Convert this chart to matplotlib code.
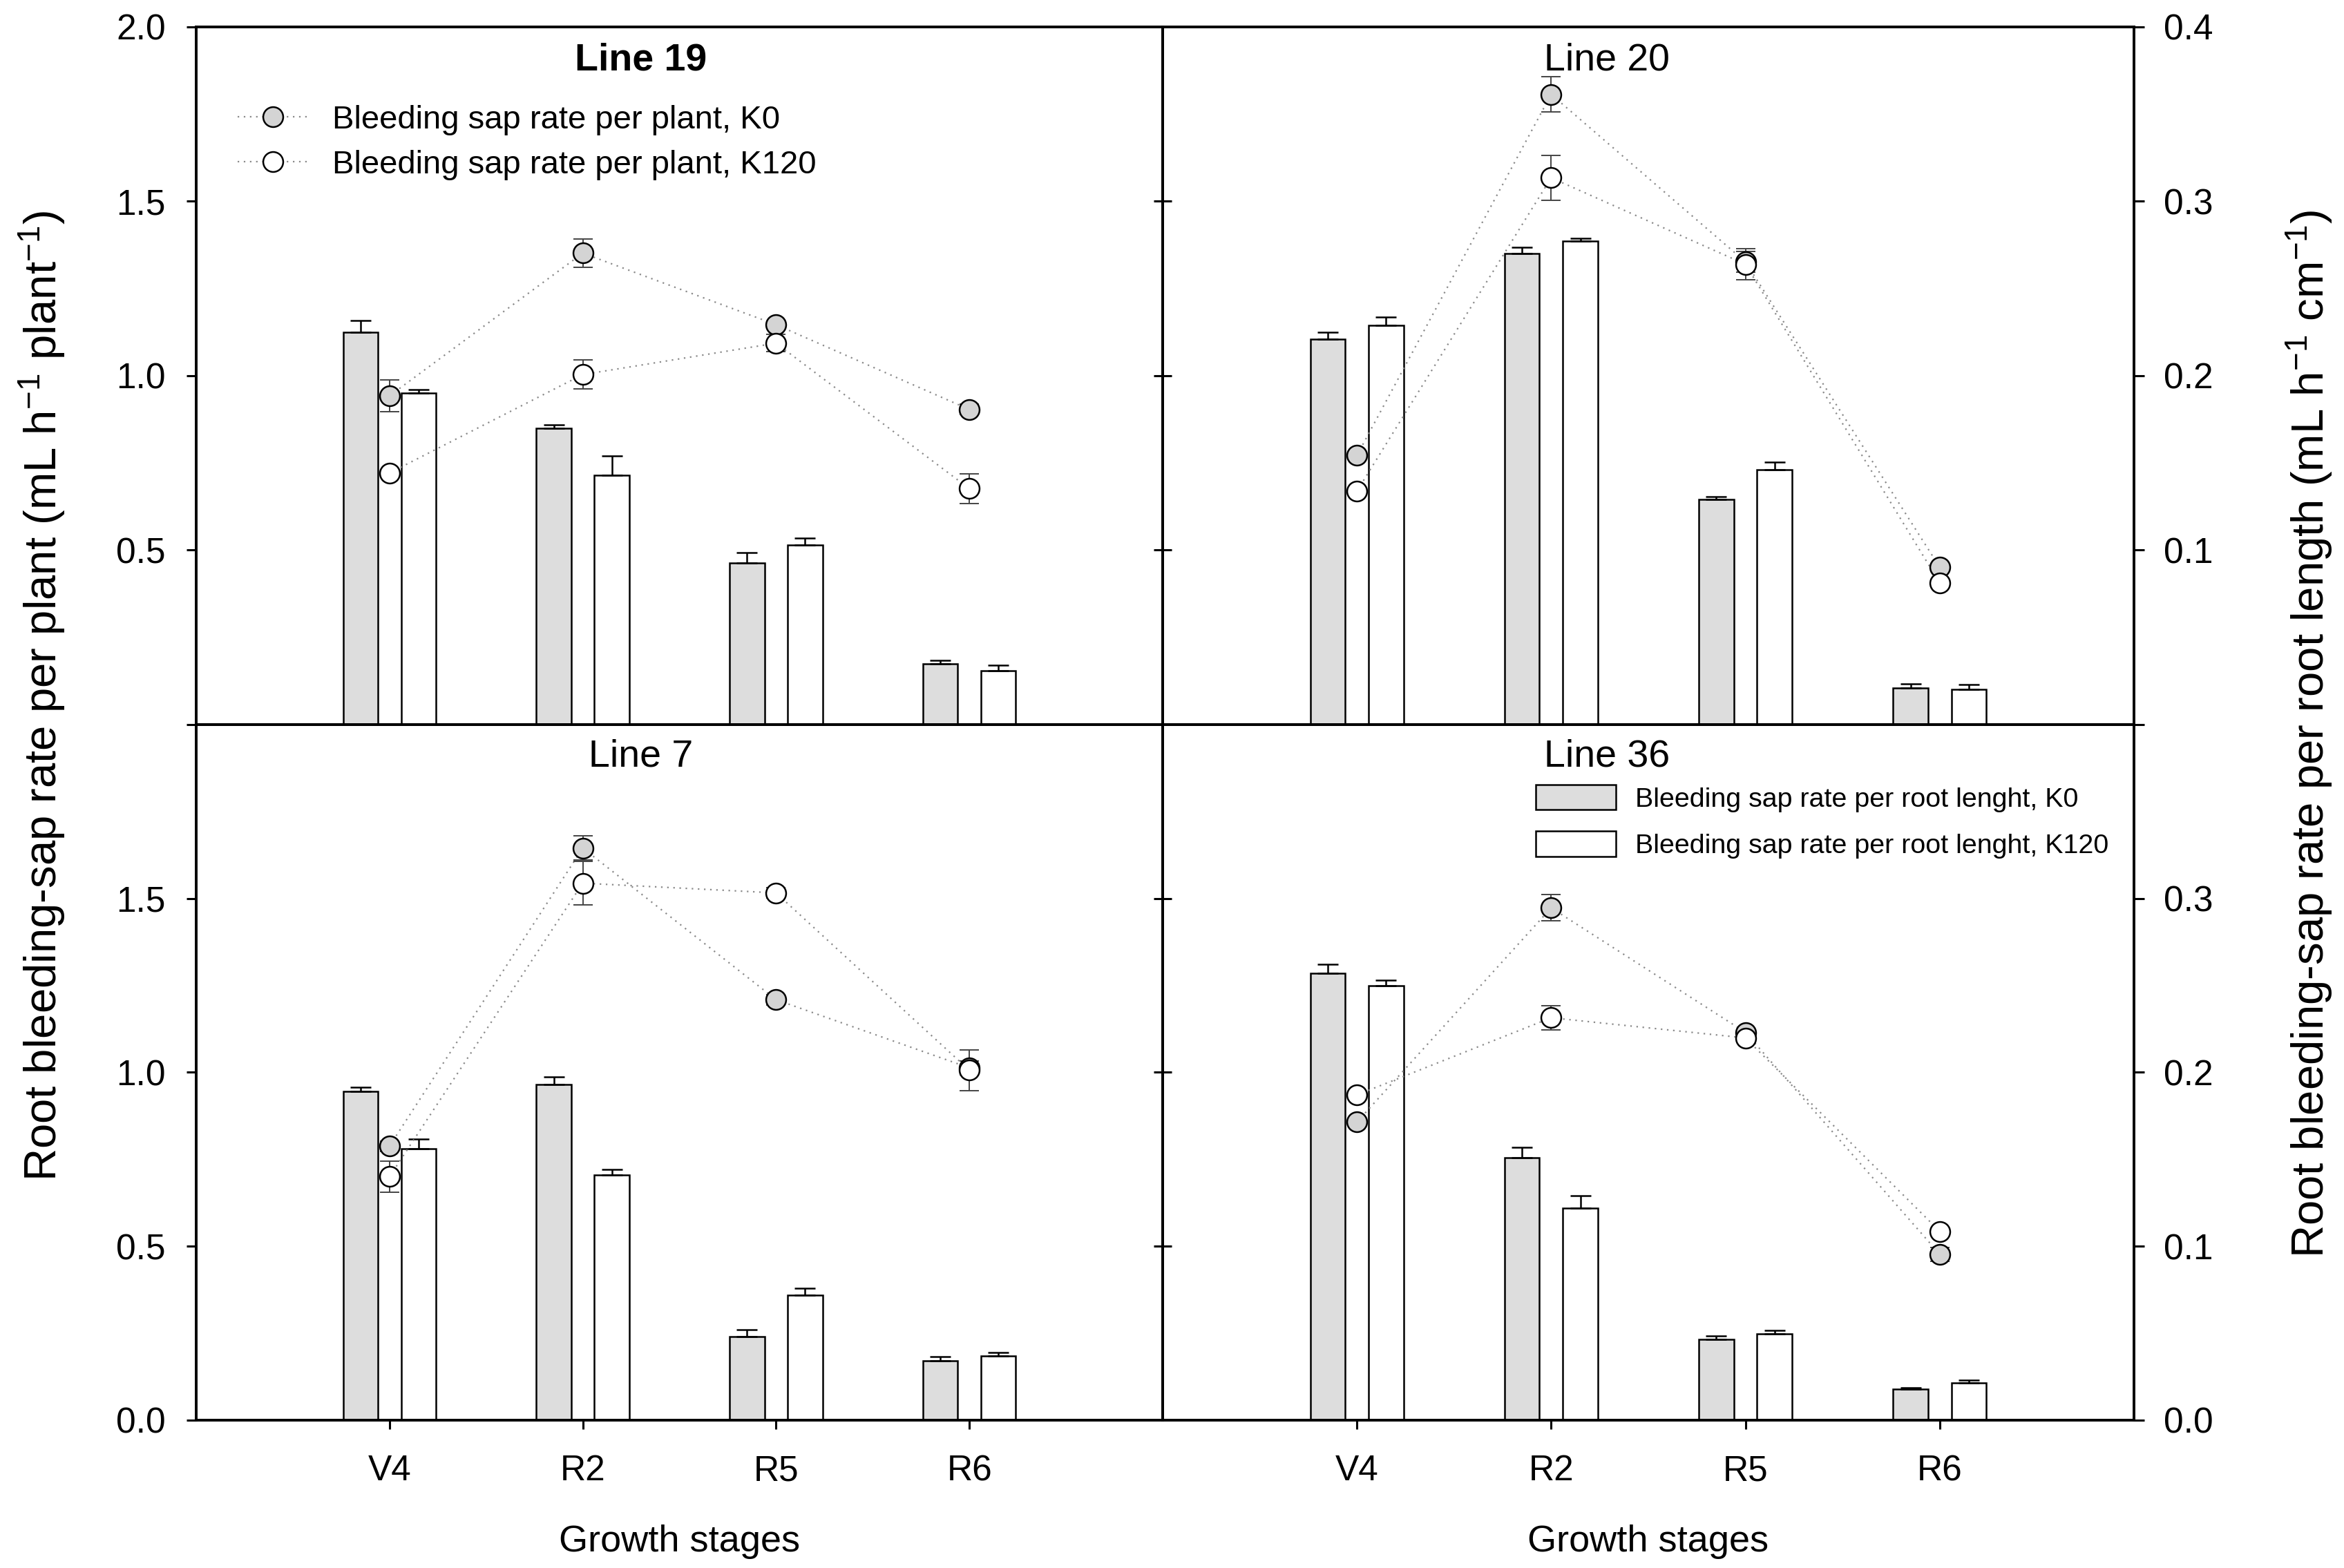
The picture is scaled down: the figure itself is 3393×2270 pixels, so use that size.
'''
bleeding sap rate of four soybean lines at four growth stages
bars: per root length (right axis), circles: per plant (left axis)
'''
import numpy as np
import matplotlib
matplotlib.use('Agg')
import matplotlib.pyplot as plt
from matplotlib.lines import Line2D
from matplotlib.patches import Patch

plt.rcParams['font.family'] = ['Liberation Sans', 'DejaVu Sans']
plt.rcParams['mathtext.fontset'] = 'custom'
plt.rcParams['mathtext.rm'] = 'Liberation Sans'
plt.rcParams['mathtext.it'] = 'Liberation Sans:italic'

stages = ['V4', 'R2', 'R5', 'R6']

# Line 19
l19_root_k0 = [0.225, 0.170, 0.0925, 0.035]
l19_root_k0_err = [0.0064, 0.002, 0.006, 0.002]
l19_root_k120 = [0.190, 0.143, 0.103, 0.031]
l19_root_k120_err = [0.002, 0.011, 0.004, 0.003]
l19_plant_k0 = [0.942, 1.351, 1.146, 0.903]
l19_plant_k0_err = [0.045, 0.04, 0.01, 0.015]
l19_plant_k120 = [0.721, 1.003, 1.093, 0.676]
l19_plant_k120_err = [0.01, 0.042, 0.025, 0.042]

# Line 20
l20_root_k0 = [0.221, 0.270, 0.129, 0.021]
l20_root_k0_err = [0.004, 0.0036, 0.0017, 0.0025]
l20_root_k120 = [0.229, 0.277, 0.146, 0.020]
l20_root_k120_err = [0.0045, 0.0017, 0.0044, 0.003]
l20_plant_k0 = [0.771, 1.806, 1.326, 0.451]
l20_plant_k0_err = [0.01, 0.05, 0.03, 0.01]
l20_plant_k120 = [0.669, 1.567, 1.319, 0.406]
l20_plant_k120_err = [0.01, 0.064, 0.045, 0.01]

# Line 7
l7_root_k0 = [0.189, 0.193, 0.048, 0.034]
l7_root_k0_err = [0.0025, 0.0044, 0.004, 0.0025]
l7_root_k120 = [0.156, 0.141, 0.072, 0.037]
l7_root_k120_err = [0.0056, 0.003, 0.004, 0.002]
l7_plant_k0 = [0.788, 1.645, 1.209, 1.013]
l7_plant_k0_err = [0.015, 0.035, 0.015, 0.02]
l7_plant_k120 = [0.700, 1.544, 1.516, 1.006]
l7_plant_k120_err = [0.045, 0.063, 0.015, 0.058]

# Line 36
l36_root_k0 = [0.257, 0.151, 0.0464, 0.0177]
l36_root_k0_err = [0.005, 0.006, 0.002, 0.001]
l36_root_k120 = [0.250, 0.122, 0.0495, 0.0215]
l36_root_k120_err = [0.003, 0.007, 0.002, 0.0015]
l36_plant_k0 = [0.857, 1.473, 1.115, 0.477]
l36_plant_k0_err = [0.01, 0.038, 0.01, 0.02]
l36_plant_k120 = [0.935, 1.157, 1.099, 0.543]
l36_plant_k120_err = [0.01, 0.034, 0.01, 0.01]

GRAY_BAR = '#dddddd'
GRAY_DOT = '#d4d4d4'
DOTTED = (0, (1, 3))


def draw_panel(ax, root_k0, root_k0_err, root_k120, root_k120_err,
               plant_k0, plant_k0_err, plant_k120, plant_k120_err,
               left, top):
    '''
    bars on a twin axis (per root length), circles on ax (per plant)
    '''
    x = np.arange(len(stages))
    axr = ax.twinx()
    ax.set_zorder(axr.get_zorder() + 1)
    ax.patch.set_visible(False)

    axr.bar(x - 0.15, root_k0, 0.18, color=GRAY_BAR, edgecolor='black', linewidth=0.9)
    axr.bar(x + 0.15, root_k120, 0.18, color='white', edgecolor='black', linewidth=0.9)
    axr.errorbar(x - 0.15, root_k0, yerr=[np.zeros(4), root_k0_err], fmt='none',
                 ecolor='black', elinewidth=0.9, capsize=5.5, capthick=0.9)
    axr.errorbar(x + 0.15, root_k120, yerr=[np.zeros(4), root_k120_err], fmt='none',
                 ecolor='black', elinewidth=0.9, capsize=5.5, capthick=0.9)

    for vals, errs, face in [(plant_k0, plant_k0_err, GRAY_DOT),
                             (plant_k120, plant_k120_err, 'white')]:
        ax.plot(x, vals, linestyle=DOTTED, color='#8a8a8a', linewidth=0.8, zorder=1)
        ax.errorbar(x, vals, yerr=errs, fmt='none', ecolor='#444444',
                    elinewidth=0.7, capsize=5.2, capthick=0.7, zorder=2)
        ax.plot(x, vals, 'o', markersize=10.4, markerfacecolor=face,
                markeredgecolor='black', markeredgewidth=0.9, linestyle='none', zorder=3)

    ax.set_xlim(-1, 4)
    ax.set_ylim(0, 2)
    axr.set_ylim(0, 0.4)

    for a in (ax, axr):
        for s in a.spines.values():
            s.set_linewidth(1.3)

    if left:
        if top:
            ax.set_yticks([0, 0.5, 1.0, 1.5, 2.0], ['', '0.5', '1.0', '1.5', '2.0'])
        else:
            ax.set_yticks([0, 0.5, 1.0, 1.5], ['0.0', '0.5', '1.0', '1.5'])
        ax.tick_params(axis='y', direction='out', length=5, width=1.1, labelsize=18.5, pad=11)
        axr.set_yticks([0.1, 0.2, 0.3])
        axr.tick_params(axis='y', direction='in', length=4.7, width=1.1, labelright=False)
    else:
        ax.set_yticks([0.5, 1.0, 1.5])
        ax.tick_params(axis='y', direction='in', length=4.7, width=1.1, labelleft=False)
        if top:
            axr.set_yticks([0, 0.1, 0.2, 0.3, 0.4], ['', '0.1', '0.2', '0.3', '0.4'])
        else:
            axr.set_yticks([0, 0.1, 0.2, 0.3], ['0.0', '0.1', '0.2', '0.3'])
        axr.tick_params(axis='y', direction='out', length=5.5, width=1.1, labelsize=18.5, pad=10)

    if top:
        ax.set_xticks([])
    else:
        ax.set_xticks(x, stages)
        ax.tick_params(axis='x', direction='out', length=4.7, width=1.1, labelsize=18.5, pad=13)
        ax.set_xlabel('Growth stages', fontsize=19.5, labelpad=19)
    return axr


fig = plt.figure(figsize=(16.965, 11.35), dpi=200)
x0, xm, x1 = 0.0837, 0.496, 0.9104
y0, ym, y1 = 0.0943, 0.5379, 0.983

ax19 = fig.add_axes([x0, ym, xm - x0, y1 - ym])
ax20 = fig.add_axes([xm, ym, x1 - xm, y1 - ym])
ax7 = fig.add_axes([x0, y0, xm - x0, ym - y0])
ax36 = fig.add_axes([xm, y0, x1 - xm, ym - y0])

draw_panel(ax19, l19_root_k0, l19_root_k0_err, l19_root_k120, l19_root_k120_err,
           l19_plant_k0, l19_plant_k0_err, l19_plant_k120, l19_plant_k120_err, True, True)
draw_panel(ax20, l20_root_k0, l20_root_k0_err, l20_root_k120, l20_root_k120_err,
           l20_plant_k0, l20_plant_k0_err, l20_plant_k120, l20_plant_k120_err, False, True)
draw_panel(ax7, l7_root_k0, l7_root_k0_err, l7_root_k120, l7_root_k120_err,
           l7_plant_k0, l7_plant_k0_err, l7_plant_k120, l7_plant_k120_err, True, False)
draw_panel(ax36, l36_root_k0, l36_root_k0_err, l36_root_k120, l36_root_k120_err,
           l36_plant_k0, l36_plant_k0_err, l36_plant_k120, l36_plant_k120_err, False, False)

ax19.text(0.46, 0.952, 'Line 19', transform=ax19.transAxes, ha='center', va='center',
          fontsize=20, fontweight='bold')
ax20.text(0.4575, 0.952, 'Line 20', transform=ax20.transAxes, ha='center', va='center', fontsize=20)
ax7.text(0.46, 0.954, 'Line 7', transform=ax7.transAxes, ha='center', va='center', fontsize=20)
ax36.text(0.4575, 0.954, 'Line 36', transform=ax36.transAxes, ha='center', va='center', fontsize=20)

# legend for the circles
circle_handles = [
    Line2D([], [], linestyle=DOTTED, color='#8a8a8a', linewidth=0.8, marker='o', markersize=10.4,
           markerfacecolor=GRAY_DOT, markeredgecolor='black', markeredgewidth=0.9),
    Line2D([], [], linestyle=DOTTED, color='#8a8a8a', linewidth=0.8, marker='o', markersize=10.4,
           markerfacecolor='white', markeredgecolor='black', markeredgewidth=0.9),
]
ax19.legend(circle_handles, ['Bleeding sap rate per plant, K0', 'Bleeding sap rate per plant, K120'],
            loc='upper left', bbox_to_anchor=(0.043, 0.888), frameon=False, fontsize=17,
            handlelength=2.15, handletextpad=0.75, labelspacing=0.45, borderpad=0, borderaxespad=0)

# legend for the bars
bar_handles = [Patch(facecolor=GRAY_BAR, edgecolor='black', linewidth=0.9),
               Patch(facecolor='white', edgecolor='black', linewidth=0.9)]
ax36.legend(bar_handles, ['Bleeding sap rate per root lenght, K0', 'Bleeding sap rate per root lenght, K120'],
            loc='upper left', bbox_to_anchor=(0.384, 0.9137), frameon=False, fontsize=14.2,
            handlelength=2.95, handleheight=1.05, handletextpad=0.7, labelspacing=0.7,
            borderpad=0, borderaxespad=0)

fig.text(0.018, 0.556, r'Root bleeding-sap rate per plant (mL h$^{-1}$ plant$^{-1}$)',
         rotation=90, ha='center', va='center', fontsize=23.5)
fig.text(0.9853, 0.532, r'Root bleeding-sap rate per root length (mL h$^{-1}$ cm$^{-1}$)',
         rotation=90, ha='center', va='center', fontsize=23.5)

fig.savefig('out.png', dpi=200)
